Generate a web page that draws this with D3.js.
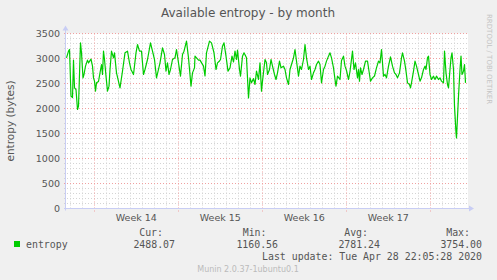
<!DOCTYPE html>
<html>
<head>
<meta charset="utf-8">
<script src="https://cdn.jsdelivr.net/npm/d3@7"></script>
<style>
  body { margin: 0; background: #f0f0f0; }
  svg { display: block; }
</style>
</head>
<body>
<div id="chart"></div>
<script>
'use strict';

//hours after the start of the graph window, and the entropy read at that time
var hours = [1, 5, 7, 10, 13, 15, 17, 20, 23, 25, 29, 31, 34, 36, 39, 43, 45, 50, 53, 55,
  57, 59, 61, 65, 68, 71, 73, 75, 77, 80, 83, 86, 88, 91, 95, 97, 101, 108, 113, 118,
  123, 127, 130, 135, 140, 143, 147, 151, 155, 158, 163, 169, 173, 177, 181, 188, 193, 197, 200, 203,
  206, 209, 213, 218, 221, 225, 229, 233, 236, 241, 245, 250, 253, 257, 258, 265, 268, 275, 278, 281,
  287, 291, 296, 300, 303, 307, 309, 313, 316, 320, 324, 328, 332, 335, 338, 341, 343, 347, 349, 353,
  356, 361, 365, 368, 371, 375, 378, 381, 385, 388, 391, 393, 398, 401, 403, 407, 410, 413, 417, 420,
  423, 427, 430, 435, 438, 441, 445, 448, 451, 455, 458, 461, 465, 468, 471, 475, 478, 481, 485, 488,
  491, 495, 498, 501, 505, 508, 511, 515, 518, 521, 525, 528, 531, 535, 538, 540, 543, 548, 551, 555,
  558, 561, 565, 568, 573, 576, 579, 583, 585, 587, 589, 592, 595, 599, 603, 607, 609, 613, 617, 621,
  625, 628, 631, 635, 638, 641, 645, 649, 653, 657, 660, 663, 667, 671, 673, 677, 680, 683, 687, 689,
  691, 695, 698, 701, 705, 708, 711, 715, 718, 720, 723, 725, 728, 731, 735, 738, 741, 745, 748, 751,
  755, 757, 760, 763, 765, 768, 770, 772, 775, 777, 780, 781, 785, 788, 790, 792, 795, 797, 799];
var entropy = [3013, 3147, 3180, 2247, 2220, 2967, 2413, 2380, 1980, 2047, 3313, 3113, 2613, 2680, 2847, 2967, 2913, 2987, 2847, 2613,
  2547, 2347, 2513, 2540, 2713, 2880, 2680, 3147, 2980, 2647, 2347, 2447, 2780, 3147, 3013, 3113, 2713, 2413, 2747, 3113,
  3147, 2913, 2780, 2680, 3113, 3280, 3147, 3147, 2680, 2780, 2980, 3313, 3147, 2980, 2613, 2913, 3213, 3080, 2747, 2913,
  2680, 2780, 2980, 3013, 3180, 2913, 2647, 3080, 3147, 3347, 3013, 2447, 2713, 2813, 3047, 2967, 2967, 2847, 2650, 3113,
  3347, 3313, 3113, 2780, 2913, 2950, 2980, 3247, 3313, 3047, 2747, 2813, 3047, 2930, 3147, 2980, 3167, 2780, 2647, 3047,
  3113, 3013, 2213, 2613, 2513, 2600, 2480, 2747, 2580, 2913, 2347, 2547, 2980, 2913, 2680, 2780, 2980, 2847, 2680, 2580,
  2713, 2947, 2813, 2847, 2780, 2613, 2480, 2780, 2880, 3013, 3180, 2947, 2647, 2847, 2780, 2980, 3280, 3013, 2780, 2847,
  2580, 2713, 2780, 2880, 2947, 2880, 2513, 2780, 2847, 2947, 3047, 3113, 3013, 2813, 2580, 2447, 2647, 2580, 2960, 3047,
  2847, 2760, 2580, 2740, 3147, 2780, 2913, 2613, 2780, 2547, 2813, 2680, 2780, 2947, 2947, 2680, 2547, 2613, 2650, 2813,
  2947, 2913, 3180, 2647, 2680, 2613, 2847, 3033, 2847, 2713, 2680, 2613, 2713, 3013, 3113, 2947, 2747, 2513, 2480, 2413,
  2513, 2747, 2947, 2847, 2680, 2547, 2613, 2780, 2847, 2780, 3013, 3047, 2680, 2580, 2647, 2580, 2647, 2580, 2613, 2547,
  2513, 3147, 2713, 2480, 2413, 2780, 3013, 3113, 2780, 2047, 1513, 1413, 2247, 2780, 3047, 2680, 2747, 2880, 2513];

//axis ticks and labels
var yTicks = [0, 500, 1000, 1500, 2000, 2500, 3000, 3500];
var weekStarts = ['2020-03-30', '2020-04-06', '2020-04-13', '2020-04-20', '2020-04-27'];
var weekLabels = ['Week 14', 'Week 15', 'Week 16', 'Week 17'];

//legend
var legendHeads = ['Cur:', 'Min:', 'Avg:', 'Max:'];
var legendValues = ['2488.07', '1160.56', '2781.24', '3754.00'];
var lastUpdate = 'Last update: Tue Apr 28 22:05:28 2020';

//configuration variables
var config = {};
config.width   = 497;
config.height  = 280;
config.left    = 66;
config.right   = 466;
config.top     = 33.5;
config.bottom  = 208.5;
config.start   = new Date('2020-03-27T15:24:00Z');
config.span    = 800; //hours
config.sans    = 'DejaVu Sans, Verdana, sans-serif';
config.mono    = 'DejaVu Sans Mono, monospace';
config.textCol = '#555';
config.axisCol = '#c8cdf4';

var start = config.start;
var end = new Date(+start + config.span * 3600e3);

var svg = d3.select('#chart')
    .append('svg')
    .attr('width', config.width)
    .attr('height', config.height);

svg.append('rect')
    .attr('width', config.width)
    .attr('height', config.height)
    .attr('fill', '#f0f0f0');

var x = d3.scaleUtc().domain([start, end]).range([config.left, config.right]);
var y = d3.scaleLinear().domain([0, 3500]).range([config.bottom, config.top]);

function px(v){ return Math.floor(v) + 0.5; }

//white canvas behind the plot
svg.append('rect')
    .attr('x', config.left)
    .attr('y', config.top)
    .attr('width', config.right - config.left + 2)
    .attr('height', config.bottom - config.top)
    .attr('fill', '#ffffff');

var grid = svg.append('g').attr('class', 'grid');

//minor horizontal grid every 100
grid.selectAll('line.hmin')
    .data(d3.range(100, 3501, 100).filter(function(d){ return d % 500 !== 0; }))
    .enter()
        .append('line')
        .attr('x1', config.left - 2)
        .attr('x2', config.right + 2)
        .attr('y1', function(d){ return px(y(d)); })
        .attr('y2', function(d){ return px(y(d)); })
        .attr('stroke', '#d4d4d4')
        .attr('stroke-dasharray', '1,2');

//minor vertical grid every day
var days = d3.utcDay.range(start, end).filter(function(d){ return d.getUTCDay() !== 1; });
grid.selectAll('line.vmin')
    .data(days)
    .enter()
        .append('line')
        .attr('x1', function(d){ return px(x(d)); })
        .attr('x2', function(d){ return px(x(d)); })
        .attr('y1', config.top)
        .attr('y2', config.bottom + 2)
        .attr('stroke', '#d4d4d4')
        .attr('stroke-dasharray', '1,2');

//major horizontal grid every 500
grid.selectAll('line.hmaj')
    .data(yTicks.slice(1))
    .enter()
        .append('line')
        .attr('x1', config.left - 2)
        .attr('x2', config.right + 2)
        .attr('y1', function(d){ return px(y(d)); })
        .attr('y2', function(d){ return px(y(d)); })
        .attr('stroke', '#f0a0a0')
        .attr('stroke-dasharray', '1,2');

//major vertical grid every week
grid.selectAll('line.vmaj')
    .data(weekStarts)
    .enter()
        .append('line')
        .attr('x1', function(d){ return px(x(new Date(d + 'T00:00:00Z'))); })
        .attr('x2', function(d){ return px(x(new Date(d + 'T00:00:00Z'))); })
        .attr('y1', config.top)
        .attr('y2', config.bottom + 3)
        .attr('stroke', '#f0a0a0')
        .attr('stroke-dasharray', '1,2');

//axes with arrows
svg.append('line')
    .attr('x1', config.left - 0.5).attr('x2', config.left - 0.5)
    .attr('y1', config.bottom + 2).attr('y2', config.top - 4)
    .attr('stroke', config.axisCol);
svg.append('line')
    .attr('x1', config.left - 2).attr('x2', config.right + 4)
    .attr('y1', config.bottom).attr('y2', config.bottom)
    .attr('stroke', config.axisCol);
svg.append('path')
    .attr('d', 'M' + (config.left - 3.5) + ',' + (config.top - 3) + 'L' + (config.left - 0.5) + ',' + (config.top - 8) + 'L' + (config.left + 2.5) + ',' + (config.top - 3) + 'Z')
    .attr('fill', config.axisCol);
svg.append('path')
    .attr('d', 'M' + (config.right + 3) + ',' + (config.bottom - 3) + 'L' + (config.right + 8) + ',' + config.bottom + 'L' + (config.right + 3) + ',' + (config.bottom + 3) + 'Z')
    .attr('fill', config.axisCol);

//the entropy line
var points = hours.map(function(h, i){
    return { t: new Date(+start + h * 3600e3), v: entropy[i] };
});
var line = d3.line()
    .x(function(d){ return x(d.t); })
    .y(function(d){ return y(d.v); });
svg.append('path')
    .datum(points)
    .attr('d', line)
    .attr('fill', 'none')
    .attr('stroke', '#00cc00')
    .attr('stroke-width', 1.2)
    .attr('stroke-linejoin', 'round');

//y tick labels
svg.append('g')
    .selectAll('text')
    .data(yTicks)
    .enter()
        .append('text')
        .attr('x', 60)
        .attr('y', function(d){ return y(d); })
        .attr('dy', '0.35em')
        .attr('text-anchor', 'end')
        .attr('fill', config.textCol)
        .style('font-family', config.sans)
        .style('font-size', '9.5px')
        .text(function(d){ return d; });

//week labels centred in each week
svg.append('g')
    .selectAll('text')
    .data(weekLabels)
    .enter()
        .append('text')
        .attr('x', function(d, i){
            var a = new Date(weekStarts[i] + 'T00:00:00Z');
            return x(new Date(+a + 3.5 * 86400e3));
        })
        .attr('y', 221)
        .attr('text-anchor', 'middle')
        .attr('fill', config.textCol)
        .style('font-family', config.sans)
        .style('font-size', '9.5px')
        .text(function(d){ return d; });

//title
svg.append('text')
    .attr('x', 248)
    .attr('y', 17)
    .attr('text-anchor', 'middle')
    .attr('fill', '#555')
    .style('font-family', config.sans)
    .style('font-size', '12px')
    .text('Available entropy - by month');

//vertical axis title
svg.append('text')
    .attr('transform', 'translate(14,121) rotate(-90)')
    .attr('text-anchor', 'middle')
    .attr('fill', config.textCol)
    .style('font-family', config.sans)
    .style('font-size', '10.5px')
    .text('entropy (bytes)');

//rrdtool credit
svg.append('text')
    .attr('transform', 'translate(487,14) rotate(90)')
    .attr('text-anchor', 'start')
    .attr('fill', '#c4c4c4')
    .style('font-family', config.sans)
    .style('font-size', '7px')
    .text('RRDTOOL / TOBI OETIKER');

//legend
var cols = [163, 266.5, 368, 470];
var colsVal = [175, 278, 380, 482];
var legend = svg.append('g')
    .style('font-family', config.mono)
    .style('font-size', '9.9px')
    .attr('fill', config.textCol);

legend.selectAll('text.head')
    .data(legendHeads)
    .enter()
        .append('text')
        .attr('x', function(d, i){ return cols[i]; })
        .attr('y', 236)
        .attr('text-anchor', 'end')
        .text(function(d){ return d; });

legend.selectAll('text.val')
    .data(legendValues)
    .enter()
        .append('text')
        .attr('x', function(d, i){ return colsVal[i]; })
        .attr('y', 248)
        .attr('text-anchor', 'end')
        .text(function(d){ return d; });

legend.append('rect')
    .attr('x', 14)
    .attr('y', 241)
    .attr('width', 6)
    .attr('height', 6)
    .attr('fill', '#00cc00');

legend.append('text')
    .attr('x', 26)
    .attr('y', 248)
    .text('entropy');

legend.append('text')
    .attr('x', 482)
    .attr('y', 260)
    .attr('text-anchor', 'end')
    .text(lastUpdate);

svg.append('text')
    .attr('x', 248)
    .attr('y', 272)
    .attr('text-anchor', 'middle')
    .attr('fill', '#bbbbbb')
    .style('font-family', config.sans)
    .style('font-size', '8px')
    .text('Munin 2.0.37-1ubuntu0.1');
</script>
</body>
</html>
